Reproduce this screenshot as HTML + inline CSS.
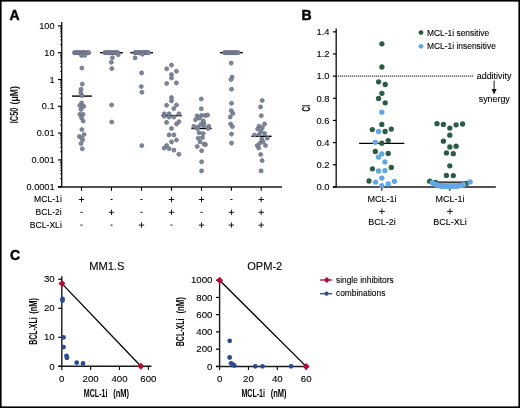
<!DOCTYPE html>
<html><head><meta charset="utf-8"><style>
html,body{margin:0;padding:0;background:#fff;}
svg{display:block;font-family:"Liberation Sans", sans-serif;will-change:transform;}
</style></head><body>
<svg width="520" height="408" viewBox="0 0 520 408">
<rect x="0" y="0" width="520" height="408" fill="#fff"/>
<text x="9.50" y="19.70" font-size="14" text-anchor="start" font-weight="bold" fill="#000" stroke="#000" stroke-width="0.45">A</text>
<line x1="61.70" y1="22.10" x2="61.70" y2="187.60" stroke="#1a1a1a" stroke-width="1.4" />
<line x1="58.00" y1="186.90" x2="282.00" y2="186.90" stroke="#1a1a1a" stroke-width="1.5" />
<line x1="58.00" y1="25.90" x2="61.70" y2="25.90" stroke="#000" stroke-width="1.2" />
<text x="54.60" y="29.00" font-size="9.2" text-anchor="end" font-weight="normal" fill="#000" stroke="#000" stroke-width="0.1" >100</text>
<line x1="58.00" y1="52.70" x2="61.70" y2="52.70" stroke="#000" stroke-width="1.2" />
<text x="54.60" y="55.80" font-size="9.2" text-anchor="end" font-weight="normal" fill="#000" stroke="#000" stroke-width="0.1" >10</text>
<line x1="58.00" y1="79.50" x2="61.70" y2="79.50" stroke="#000" stroke-width="1.2" />
<text x="54.60" y="82.60" font-size="9.2" text-anchor="end" font-weight="normal" fill="#000" stroke="#000" stroke-width="0.1" >1</text>
<line x1="58.00" y1="106.30" x2="61.70" y2="106.30" stroke="#000" stroke-width="1.2" />
<text x="54.60" y="109.40" font-size="9.2" text-anchor="end" font-weight="normal" fill="#000" stroke="#000" stroke-width="0.1" >0.1</text>
<line x1="58.00" y1="133.10" x2="61.70" y2="133.10" stroke="#000" stroke-width="1.2" />
<text x="54.60" y="136.20" font-size="9.2" text-anchor="end" font-weight="normal" fill="#000" stroke="#000" stroke-width="0.1" >0.01</text>
<line x1="58.00" y1="159.90" x2="61.70" y2="159.90" stroke="#000" stroke-width="1.2" />
<text x="54.60" y="163.00" font-size="9.2" text-anchor="end" font-weight="normal" fill="#000" stroke="#000" stroke-width="0.1" >0.001</text>
<line x1="58.00" y1="186.70" x2="61.70" y2="186.70" stroke="#000" stroke-width="1.2" />
<text x="54.60" y="189.80" font-size="9.2" text-anchor="end" font-weight="normal" fill="#000" stroke="#000" stroke-width="0.1" >0.0001</text>
<line x1="60.00" y1="178.63" x2="61.70" y2="178.63" stroke="#000" stroke-width="0.8" />
<line x1="60.00" y1="173.91" x2="61.70" y2="173.91" stroke="#000" stroke-width="0.8" />
<line x1="60.00" y1="170.56" x2="61.70" y2="170.56" stroke="#000" stroke-width="0.8" />
<line x1="60.00" y1="167.97" x2="61.70" y2="167.97" stroke="#000" stroke-width="0.8" />
<line x1="60.00" y1="165.85" x2="61.70" y2="165.85" stroke="#000" stroke-width="0.8" />
<line x1="60.00" y1="164.05" x2="61.70" y2="164.05" stroke="#000" stroke-width="0.8" />
<line x1="60.00" y1="162.50" x2="61.70" y2="162.50" stroke="#000" stroke-width="0.8" />
<line x1="60.00" y1="161.13" x2="61.70" y2="161.13" stroke="#000" stroke-width="0.8" />
<line x1="60.00" y1="151.83" x2="61.70" y2="151.83" stroke="#000" stroke-width="0.8" />
<line x1="60.00" y1="147.11" x2="61.70" y2="147.11" stroke="#000" stroke-width="0.8" />
<line x1="60.00" y1="143.76" x2="61.70" y2="143.76" stroke="#000" stroke-width="0.8" />
<line x1="60.00" y1="141.17" x2="61.70" y2="141.17" stroke="#000" stroke-width="0.8" />
<line x1="60.00" y1="139.05" x2="61.70" y2="139.05" stroke="#000" stroke-width="0.8" />
<line x1="60.00" y1="137.25" x2="61.70" y2="137.25" stroke="#000" stroke-width="0.8" />
<line x1="60.00" y1="135.70" x2="61.70" y2="135.70" stroke="#000" stroke-width="0.8" />
<line x1="60.00" y1="134.33" x2="61.70" y2="134.33" stroke="#000" stroke-width="0.8" />
<line x1="60.00" y1="125.03" x2="61.70" y2="125.03" stroke="#000" stroke-width="0.8" />
<line x1="60.00" y1="120.31" x2="61.70" y2="120.31" stroke="#000" stroke-width="0.8" />
<line x1="60.00" y1="116.96" x2="61.70" y2="116.96" stroke="#000" stroke-width="0.8" />
<line x1="60.00" y1="114.37" x2="61.70" y2="114.37" stroke="#000" stroke-width="0.8" />
<line x1="60.00" y1="112.25" x2="61.70" y2="112.25" stroke="#000" stroke-width="0.8" />
<line x1="60.00" y1="110.45" x2="61.70" y2="110.45" stroke="#000" stroke-width="0.8" />
<line x1="60.00" y1="108.90" x2="61.70" y2="108.90" stroke="#000" stroke-width="0.8" />
<line x1="60.00" y1="107.53" x2="61.70" y2="107.53" stroke="#000" stroke-width="0.8" />
<line x1="60.00" y1="98.23" x2="61.70" y2="98.23" stroke="#000" stroke-width="0.8" />
<line x1="60.00" y1="93.51" x2="61.70" y2="93.51" stroke="#000" stroke-width="0.8" />
<line x1="60.00" y1="90.16" x2="61.70" y2="90.16" stroke="#000" stroke-width="0.8" />
<line x1="60.00" y1="87.57" x2="61.70" y2="87.57" stroke="#000" stroke-width="0.8" />
<line x1="60.00" y1="85.45" x2="61.70" y2="85.45" stroke="#000" stroke-width="0.8" />
<line x1="60.00" y1="83.65" x2="61.70" y2="83.65" stroke="#000" stroke-width="0.8" />
<line x1="60.00" y1="82.10" x2="61.70" y2="82.10" stroke="#000" stroke-width="0.8" />
<line x1="60.00" y1="80.73" x2="61.70" y2="80.73" stroke="#000" stroke-width="0.8" />
<line x1="60.00" y1="71.43" x2="61.70" y2="71.43" stroke="#000" stroke-width="0.8" />
<line x1="60.00" y1="66.71" x2="61.70" y2="66.71" stroke="#000" stroke-width="0.8" />
<line x1="60.00" y1="63.36" x2="61.70" y2="63.36" stroke="#000" stroke-width="0.8" />
<line x1="60.00" y1="60.77" x2="61.70" y2="60.77" stroke="#000" stroke-width="0.8" />
<line x1="60.00" y1="58.65" x2="61.70" y2="58.65" stroke="#000" stroke-width="0.8" />
<line x1="60.00" y1="56.85" x2="61.70" y2="56.85" stroke="#000" stroke-width="0.8" />
<line x1="60.00" y1="55.30" x2="61.70" y2="55.30" stroke="#000" stroke-width="0.8" />
<line x1="60.00" y1="53.93" x2="61.70" y2="53.93" stroke="#000" stroke-width="0.8" />
<line x1="60.00" y1="44.63" x2="61.70" y2="44.63" stroke="#000" stroke-width="0.8" />
<line x1="60.00" y1="39.91" x2="61.70" y2="39.91" stroke="#000" stroke-width="0.8" />
<line x1="60.00" y1="36.56" x2="61.70" y2="36.56" stroke="#000" stroke-width="0.8" />
<line x1="60.00" y1="33.97" x2="61.70" y2="33.97" stroke="#000" stroke-width="0.8" />
<line x1="60.00" y1="31.85" x2="61.70" y2="31.85" stroke="#000" stroke-width="0.8" />
<line x1="60.00" y1="30.05" x2="61.70" y2="30.05" stroke="#000" stroke-width="0.8" />
<line x1="60.00" y1="28.50" x2="61.70" y2="28.50" stroke="#000" stroke-width="0.8" />
<line x1="60.00" y1="27.13" x2="61.70" y2="27.13" stroke="#000" stroke-width="0.8" />
<line x1="81.50" y1="186.90" x2="81.50" y2="190.80" stroke="#000" stroke-width="1.1" />
<line x1="111.50" y1="186.90" x2="111.50" y2="190.80" stroke="#000" stroke-width="1.1" />
<line x1="141.50" y1="186.90" x2="141.50" y2="190.80" stroke="#000" stroke-width="1.1" />
<line x1="171.50" y1="186.90" x2="171.50" y2="190.80" stroke="#000" stroke-width="1.1" />
<line x1="201.50" y1="186.90" x2="201.50" y2="190.80" stroke="#000" stroke-width="1.1" />
<line x1="231.40" y1="186.90" x2="231.40" y2="190.80" stroke="#000" stroke-width="1.1" />
<line x1="261.20" y1="186.90" x2="261.20" y2="190.80" stroke="#000" stroke-width="1.1" />
<text transform="translate(17.5,123.2) rotate(-90)" font-size="10.4" font-weight="bold" fill="#111" textLength="15.6" lengthAdjust="spacingAndGlyphs">IC50</text>
<text transform="translate(17.5,104.4) rotate(-90)" font-size="10.4" font-weight="bold" fill="#111" textLength="18.2" lengthAdjust="spacingAndGlyphs">(μM)</text>
<text x="61.80" y="202.10" font-size="8.6" text-anchor="end" font-weight="normal" fill="#000" stroke="#000" stroke-width="0.1" >MCL-1i</text>
<line x1="78.80" y1="199.50" x2="84.20" y2="199.50" stroke="#000" stroke-width="0.9" />
<line x1="81.50" y1="196.80" x2="81.50" y2="202.20" stroke="#000" stroke-width="0.9" />
<line x1="110.40" y1="199.50" x2="112.60" y2="199.50" stroke="#000" stroke-width="0.9" />
<line x1="140.40" y1="199.50" x2="142.60" y2="199.50" stroke="#000" stroke-width="0.9" />
<line x1="168.80" y1="199.50" x2="174.20" y2="199.50" stroke="#000" stroke-width="0.9" />
<line x1="171.50" y1="196.80" x2="171.50" y2="202.20" stroke="#000" stroke-width="0.9" />
<line x1="198.80" y1="199.50" x2="204.20" y2="199.50" stroke="#000" stroke-width="0.9" />
<line x1="201.50" y1="196.80" x2="201.50" y2="202.20" stroke="#000" stroke-width="0.9" />
<line x1="230.30" y1="199.50" x2="232.50" y2="199.50" stroke="#000" stroke-width="0.9" />
<line x1="258.50" y1="199.50" x2="263.90" y2="199.50" stroke="#000" stroke-width="0.9" />
<line x1="261.20" y1="196.80" x2="261.20" y2="202.20" stroke="#000" stroke-width="0.9" />
<text x="61.80" y="214.90" font-size="8.6" text-anchor="end" font-weight="normal" fill="#000" stroke="#000" stroke-width="0.1" >BCL-2i</text>
<line x1="80.40" y1="212.30" x2="82.60" y2="212.30" stroke="#000" stroke-width="0.9" />
<line x1="108.80" y1="212.30" x2="114.20" y2="212.30" stroke="#000" stroke-width="0.9" />
<line x1="111.50" y1="209.60" x2="111.50" y2="215.00" stroke="#000" stroke-width="0.9" />
<line x1="140.40" y1="212.30" x2="142.60" y2="212.30" stroke="#000" stroke-width="0.9" />
<line x1="168.80" y1="212.30" x2="174.20" y2="212.30" stroke="#000" stroke-width="0.9" />
<line x1="171.50" y1="209.60" x2="171.50" y2="215.00" stroke="#000" stroke-width="0.9" />
<line x1="200.40" y1="212.30" x2="202.60" y2="212.30" stroke="#000" stroke-width="0.9" />
<line x1="228.70" y1="212.30" x2="234.10" y2="212.30" stroke="#000" stroke-width="0.9" />
<line x1="231.40" y1="209.60" x2="231.40" y2="215.00" stroke="#000" stroke-width="0.9" />
<line x1="258.50" y1="212.30" x2="263.90" y2="212.30" stroke="#000" stroke-width="0.9" />
<line x1="261.20" y1="209.60" x2="261.20" y2="215.00" stroke="#000" stroke-width="0.9" />
<text x="61.80" y="227.70" font-size="8.6" text-anchor="end" font-weight="normal" fill="#000" stroke="#000" stroke-width="0.1" >BCL-XLi</text>
<line x1="80.40" y1="225.10" x2="82.60" y2="225.10" stroke="#000" stroke-width="0.9" />
<line x1="110.40" y1="225.10" x2="112.60" y2="225.10" stroke="#000" stroke-width="0.9" />
<line x1="138.80" y1="225.10" x2="144.20" y2="225.10" stroke="#000" stroke-width="0.9" />
<line x1="141.50" y1="222.40" x2="141.50" y2="227.80" stroke="#000" stroke-width="0.9" />
<line x1="170.40" y1="225.10" x2="172.60" y2="225.10" stroke="#000" stroke-width="0.9" />
<line x1="198.80" y1="225.10" x2="204.20" y2="225.10" stroke="#000" stroke-width="0.9" />
<line x1="201.50" y1="222.40" x2="201.50" y2="227.80" stroke="#000" stroke-width="0.9" />
<line x1="228.70" y1="225.10" x2="234.10" y2="225.10" stroke="#000" stroke-width="0.9" />
<line x1="231.40" y1="222.40" x2="231.40" y2="227.80" stroke="#000" stroke-width="0.9" />
<line x1="258.50" y1="225.10" x2="263.90" y2="225.10" stroke="#000" stroke-width="0.9" />
<line x1="261.20" y1="222.40" x2="261.20" y2="227.80" stroke="#000" stroke-width="0.9" />
<line x1="72.00" y1="96.10" x2="91.80" y2="96.10" stroke="#000" stroke-width="1.4" />
<line x1="100.10" y1="52.70" x2="122.90" y2="52.70" stroke="#000" stroke-width="1.4" />
<line x1="130.30" y1="52.70" x2="153.10" y2="52.70" stroke="#000" stroke-width="1.4" />
<line x1="161.50" y1="115.60" x2="181.70" y2="115.60" stroke="#000" stroke-width="1.4" />
<line x1="191.40" y1="128.50" x2="211.60" y2="128.50" stroke="#000" stroke-width="1.4" />
<line x1="220.05" y1="52.65" x2="242.85" y2="52.65" stroke="#000" stroke-width="1.4" />
<line x1="251.40" y1="136.30" x2="271.60" y2="136.30" stroke="#000" stroke-width="1.4" />
<circle cx="74.40" cy="52.65" r="2.05" fill="#80869a" stroke="#626779" stroke-width="0.6"/>
<circle cx="75.72" cy="52.65" r="2.05" fill="#80869a" stroke="#626779" stroke-width="0.6"/>
<circle cx="77.04" cy="52.65" r="2.05" fill="#80869a" stroke="#626779" stroke-width="0.6"/>
<circle cx="78.35" cy="52.65" r="2.05" fill="#80869a" stroke="#626779" stroke-width="0.6"/>
<circle cx="79.67" cy="52.65" r="2.05" fill="#80869a" stroke="#626779" stroke-width="0.6"/>
<circle cx="80.99" cy="52.65" r="2.05" fill="#80869a" stroke="#626779" stroke-width="0.6"/>
<circle cx="82.31" cy="52.65" r="2.05" fill="#80869a" stroke="#626779" stroke-width="0.6"/>
<circle cx="83.63" cy="52.65" r="2.05" fill="#80869a" stroke="#626779" stroke-width="0.6"/>
<circle cx="84.95" cy="52.65" r="2.05" fill="#80869a" stroke="#626779" stroke-width="0.6"/>
<circle cx="86.26" cy="52.65" r="2.05" fill="#80869a" stroke="#626779" stroke-width="0.6"/>
<circle cx="87.58" cy="52.65" r="2.05" fill="#80869a" stroke="#626779" stroke-width="0.6"/>
<circle cx="88.90" cy="52.65" r="2.05" fill="#80869a" stroke="#626779" stroke-width="0.6"/>
<circle cx="81.60" cy="55.40" r="2.05" fill="#80869a" stroke="#626779" stroke-width="0.6"/>
<circle cx="84.70" cy="55.40" r="2.05" fill="#80869a" stroke="#626779" stroke-width="0.6"/>
<circle cx="81.90" cy="68.10" r="2.05" fill="#80869a" stroke="#626779" stroke-width="0.6"/>
<circle cx="82.30" cy="84.10" r="2.05" fill="#80869a" stroke="#626779" stroke-width="0.6"/>
<circle cx="81.00" cy="89.30" r="2.05" fill="#80869a" stroke="#626779" stroke-width="0.6"/>
<circle cx="80.80" cy="92.70" r="2.05" fill="#80869a" stroke="#626779" stroke-width="0.6"/>
<circle cx="82.00" cy="95.60" r="2.05" fill="#80869a" stroke="#626779" stroke-width="0.6"/>
<circle cx="81.60" cy="103.00" r="2.05" fill="#80869a" stroke="#626779" stroke-width="0.6"/>
<circle cx="79.80" cy="105.50" r="2.05" fill="#80869a" stroke="#626779" stroke-width="0.6"/>
<circle cx="83.70" cy="106.40" r="2.05" fill="#80869a" stroke="#626779" stroke-width="0.6"/>
<circle cx="81.00" cy="109.40" r="2.05" fill="#80869a" stroke="#626779" stroke-width="0.6"/>
<circle cx="79.90" cy="114.40" r="2.05" fill="#80869a" stroke="#626779" stroke-width="0.6"/>
<circle cx="83.00" cy="114.40" r="2.05" fill="#80869a" stroke="#626779" stroke-width="0.6"/>
<circle cx="81.60" cy="117.90" r="2.05" fill="#80869a" stroke="#626779" stroke-width="0.6"/>
<circle cx="83.20" cy="121.00" r="2.05" fill="#80869a" stroke="#626779" stroke-width="0.6"/>
<circle cx="81.90" cy="129.60" r="2.05" fill="#80869a" stroke="#626779" stroke-width="0.6"/>
<circle cx="84.10" cy="134.50" r="2.05" fill="#80869a" stroke="#626779" stroke-width="0.6"/>
<circle cx="79.40" cy="136.50" r="2.05" fill="#80869a" stroke="#626779" stroke-width="0.6"/>
<circle cx="81.60" cy="138.10" r="2.05" fill="#80869a" stroke="#626779" stroke-width="0.6"/>
<circle cx="82.70" cy="140.00" r="2.05" fill="#80869a" stroke="#626779" stroke-width="0.6"/>
<circle cx="81.00" cy="143.60" r="2.05" fill="#80869a" stroke="#626779" stroke-width="0.6"/>
<circle cx="82.30" cy="148.80" r="2.05" fill="#80869a" stroke="#626779" stroke-width="0.6"/>
<circle cx="104.80" cy="52.65" r="2.05" fill="#80869a" stroke="#626779" stroke-width="0.6"/>
<circle cx="106.11" cy="52.65" r="2.05" fill="#80869a" stroke="#626779" stroke-width="0.6"/>
<circle cx="107.42" cy="52.65" r="2.05" fill="#80869a" stroke="#626779" stroke-width="0.6"/>
<circle cx="108.73" cy="52.65" r="2.05" fill="#80869a" stroke="#626779" stroke-width="0.6"/>
<circle cx="110.04" cy="52.65" r="2.05" fill="#80869a" stroke="#626779" stroke-width="0.6"/>
<circle cx="111.35" cy="52.65" r="2.05" fill="#80869a" stroke="#626779" stroke-width="0.6"/>
<circle cx="112.66" cy="52.65" r="2.05" fill="#80869a" stroke="#626779" stroke-width="0.6"/>
<circle cx="113.97" cy="52.65" r="2.05" fill="#80869a" stroke="#626779" stroke-width="0.6"/>
<circle cx="115.28" cy="52.65" r="2.05" fill="#80869a" stroke="#626779" stroke-width="0.6"/>
<circle cx="116.59" cy="52.65" r="2.05" fill="#80869a" stroke="#626779" stroke-width="0.6"/>
<circle cx="117.90" cy="52.65" r="2.05" fill="#80869a" stroke="#626779" stroke-width="0.6"/>
<circle cx="118.20" cy="54.80" r="2.05" fill="#80869a" stroke="#626779" stroke-width="0.6"/>
<circle cx="112.40" cy="57.70" r="2.05" fill="#80869a" stroke="#626779" stroke-width="0.6"/>
<circle cx="111.30" cy="62.30" r="2.05" fill="#80869a" stroke="#626779" stroke-width="0.6"/>
<circle cx="111.80" cy="68.60" r="2.05" fill="#80869a" stroke="#626779" stroke-width="0.6"/>
<circle cx="111.60" cy="105.00" r="2.05" fill="#80869a" stroke="#626779" stroke-width="0.6"/>
<circle cx="111.70" cy="122.00" r="2.05" fill="#80869a" stroke="#626779" stroke-width="0.6"/>
<circle cx="134.80" cy="52.65" r="2.05" fill="#80869a" stroke="#626779" stroke-width="0.6"/>
<circle cx="136.05" cy="52.65" r="2.05" fill="#80869a" stroke="#626779" stroke-width="0.6"/>
<circle cx="137.31" cy="52.65" r="2.05" fill="#80869a" stroke="#626779" stroke-width="0.6"/>
<circle cx="138.56" cy="52.65" r="2.05" fill="#80869a" stroke="#626779" stroke-width="0.6"/>
<circle cx="139.82" cy="52.65" r="2.05" fill="#80869a" stroke="#626779" stroke-width="0.6"/>
<circle cx="141.07" cy="52.65" r="2.05" fill="#80869a" stroke="#626779" stroke-width="0.6"/>
<circle cx="142.33" cy="52.65" r="2.05" fill="#80869a" stroke="#626779" stroke-width="0.6"/>
<circle cx="143.58" cy="52.65" r="2.05" fill="#80869a" stroke="#626779" stroke-width="0.6"/>
<circle cx="144.84" cy="52.65" r="2.05" fill="#80869a" stroke="#626779" stroke-width="0.6"/>
<circle cx="146.09" cy="52.65" r="2.05" fill="#80869a" stroke="#626779" stroke-width="0.6"/>
<circle cx="147.35" cy="52.65" r="2.05" fill="#80869a" stroke="#626779" stroke-width="0.6"/>
<circle cx="148.60" cy="52.65" r="2.05" fill="#80869a" stroke="#626779" stroke-width="0.6"/>
<circle cx="142.40" cy="54.20" r="2.05" fill="#80869a" stroke="#626779" stroke-width="0.6"/>
<circle cx="135.10" cy="57.90" r="2.05" fill="#80869a" stroke="#626779" stroke-width="0.6"/>
<circle cx="141.60" cy="72.90" r="2.05" fill="#80869a" stroke="#626779" stroke-width="0.6"/>
<circle cx="141.30" cy="86.60" r="2.05" fill="#80869a" stroke="#626779" stroke-width="0.6"/>
<circle cx="141.90" cy="92.30" r="2.05" fill="#80869a" stroke="#626779" stroke-width="0.6"/>
<circle cx="141.80" cy="145.60" r="2.05" fill="#80869a" stroke="#626779" stroke-width="0.6"/>
<circle cx="171.50" cy="65.10" r="2.05" fill="#80869a" stroke="#626779" stroke-width="0.6"/>
<circle cx="166.70" cy="68.80" r="2.05" fill="#80869a" stroke="#626779" stroke-width="0.6"/>
<circle cx="176.40" cy="71.20" r="2.05" fill="#80869a" stroke="#626779" stroke-width="0.6"/>
<circle cx="171.50" cy="74.60" r="2.05" fill="#80869a" stroke="#626779" stroke-width="0.6"/>
<circle cx="171.50" cy="78.00" r="2.05" fill="#80869a" stroke="#626779" stroke-width="0.6"/>
<circle cx="166.70" cy="83.50" r="2.05" fill="#80869a" stroke="#626779" stroke-width="0.6"/>
<circle cx="176.40" cy="82.90" r="2.05" fill="#80869a" stroke="#626779" stroke-width="0.6"/>
<circle cx="171.50" cy="97.60" r="2.05" fill="#80869a" stroke="#626779" stroke-width="0.6"/>
<circle cx="171.50" cy="100.90" r="2.05" fill="#80869a" stroke="#626779" stroke-width="0.6"/>
<circle cx="166.60" cy="105.30" r="2.05" fill="#80869a" stroke="#626779" stroke-width="0.6"/>
<circle cx="176.50" cy="105.00" r="2.05" fill="#80869a" stroke="#626779" stroke-width="0.6"/>
<circle cx="173.80" cy="108.60" r="2.05" fill="#80869a" stroke="#626779" stroke-width="0.6"/>
<circle cx="164.20" cy="113.80" r="2.05" fill="#80869a" stroke="#626779" stroke-width="0.6"/>
<circle cx="169.10" cy="113.80" r="2.05" fill="#80869a" stroke="#626779" stroke-width="0.6"/>
<circle cx="178.90" cy="113.80" r="2.05" fill="#80869a" stroke="#626779" stroke-width="0.6"/>
<circle cx="164.20" cy="116.20" r="2.05" fill="#80869a" stroke="#626779" stroke-width="0.6"/>
<circle cx="169.10" cy="117.10" r="2.05" fill="#80869a" stroke="#626779" stroke-width="0.6"/>
<circle cx="173.90" cy="117.10" r="2.05" fill="#80869a" stroke="#626779" stroke-width="0.6"/>
<circle cx="166.60" cy="122.40" r="2.05" fill="#80869a" stroke="#626779" stroke-width="0.6"/>
<circle cx="178.90" cy="121.70" r="2.05" fill="#80869a" stroke="#626779" stroke-width="0.6"/>
<circle cx="176.50" cy="123.90" r="2.05" fill="#80869a" stroke="#626779" stroke-width="0.6"/>
<circle cx="171.50" cy="128.50" r="2.05" fill="#80869a" stroke="#626779" stroke-width="0.6"/>
<circle cx="169.10" cy="134.90" r="2.05" fill="#80869a" stroke="#626779" stroke-width="0.6"/>
<circle cx="173.90" cy="134.90" r="2.05" fill="#80869a" stroke="#626779" stroke-width="0.6"/>
<circle cx="176.50" cy="140.00" r="2.05" fill="#80869a" stroke="#626779" stroke-width="0.6"/>
<circle cx="171.50" cy="141.90" r="2.05" fill="#80869a" stroke="#626779" stroke-width="0.6"/>
<circle cx="166.60" cy="145.50" r="2.05" fill="#80869a" stroke="#626779" stroke-width="0.6"/>
<circle cx="164.20" cy="148.10" r="2.05" fill="#80869a" stroke="#626779" stroke-width="0.6"/>
<circle cx="169.10" cy="148.70" r="2.05" fill="#80869a" stroke="#626779" stroke-width="0.6"/>
<circle cx="173.90" cy="150.10" r="2.05" fill="#80869a" stroke="#626779" stroke-width="0.6"/>
<circle cx="178.90" cy="154.20" r="2.05" fill="#80869a" stroke="#626779" stroke-width="0.6"/>
<circle cx="201.30" cy="99.00" r="2.05" fill="#80869a" stroke="#626779" stroke-width="0.6"/>
<circle cx="201.30" cy="108.70" r="2.05" fill="#80869a" stroke="#626779" stroke-width="0.6"/>
<circle cx="197.10" cy="115.90" r="2.05" fill="#80869a" stroke="#626779" stroke-width="0.6"/>
<circle cx="201.60" cy="115.40" r="2.05" fill="#80869a" stroke="#626779" stroke-width="0.6"/>
<circle cx="205.40" cy="115.40" r="2.05" fill="#80869a" stroke="#626779" stroke-width="0.6"/>
<circle cx="207.60" cy="115.00" r="2.05" fill="#80869a" stroke="#626779" stroke-width="0.6"/>
<circle cx="195.50" cy="119.80" r="2.05" fill="#80869a" stroke="#626779" stroke-width="0.6"/>
<circle cx="199.40" cy="118.10" r="2.05" fill="#80869a" stroke="#626779" stroke-width="0.6"/>
<circle cx="203.20" cy="120.90" r="2.05" fill="#80869a" stroke="#626779" stroke-width="0.6"/>
<circle cx="203.80" cy="123.10" r="2.05" fill="#80869a" stroke="#626779" stroke-width="0.6"/>
<circle cx="201.00" cy="124.20" r="2.05" fill="#80869a" stroke="#626779" stroke-width="0.6"/>
<circle cx="193.80" cy="126.40" r="2.05" fill="#80869a" stroke="#626779" stroke-width="0.6"/>
<circle cx="198.20" cy="127.00" r="2.05" fill="#80869a" stroke="#626779" stroke-width="0.6"/>
<circle cx="203.70" cy="125.70" r="2.05" fill="#80869a" stroke="#626779" stroke-width="0.6"/>
<circle cx="208.70" cy="126.40" r="2.05" fill="#80869a" stroke="#626779" stroke-width="0.6"/>
<circle cx="197.20" cy="128.50" r="2.05" fill="#80869a" stroke="#626779" stroke-width="0.6"/>
<circle cx="208.20" cy="128.50" r="2.05" fill="#80869a" stroke="#626779" stroke-width="0.6"/>
<circle cx="199.10" cy="132.70" r="2.05" fill="#80869a" stroke="#626779" stroke-width="0.6"/>
<circle cx="203.10" cy="133.60" r="2.05" fill="#80869a" stroke="#626779" stroke-width="0.6"/>
<circle cx="198.20" cy="138.20" r="2.05" fill="#80869a" stroke="#626779" stroke-width="0.6"/>
<circle cx="202.40" cy="137.60" r="2.05" fill="#80869a" stroke="#626779" stroke-width="0.6"/>
<circle cx="200.00" cy="141.90" r="2.05" fill="#80869a" stroke="#626779" stroke-width="0.6"/>
<circle cx="197.20" cy="146.50" r="2.05" fill="#80869a" stroke="#626779" stroke-width="0.6"/>
<circle cx="204.20" cy="144.10" r="2.05" fill="#80869a" stroke="#626779" stroke-width="0.6"/>
<circle cx="205.50" cy="144.60" r="2.05" fill="#80869a" stroke="#626779" stroke-width="0.6"/>
<circle cx="201.60" cy="150.70" r="2.05" fill="#80869a" stroke="#626779" stroke-width="0.6"/>
<circle cx="201.60" cy="161.80" r="2.05" fill="#80869a" stroke="#626779" stroke-width="0.6"/>
<circle cx="201.60" cy="170.90" r="2.05" fill="#80869a" stroke="#626779" stroke-width="0.6"/>
<circle cx="224.40" cy="52.65" r="2.05" fill="#80869a" stroke="#626779" stroke-width="0.6"/>
<circle cx="225.65" cy="52.65" r="2.05" fill="#80869a" stroke="#626779" stroke-width="0.6"/>
<circle cx="226.91" cy="52.65" r="2.05" fill="#80869a" stroke="#626779" stroke-width="0.6"/>
<circle cx="228.16" cy="52.65" r="2.05" fill="#80869a" stroke="#626779" stroke-width="0.6"/>
<circle cx="229.42" cy="52.65" r="2.05" fill="#80869a" stroke="#626779" stroke-width="0.6"/>
<circle cx="230.67" cy="52.65" r="2.05" fill="#80869a" stroke="#626779" stroke-width="0.6"/>
<circle cx="231.93" cy="52.65" r="2.05" fill="#80869a" stroke="#626779" stroke-width="0.6"/>
<circle cx="233.18" cy="52.65" r="2.05" fill="#80869a" stroke="#626779" stroke-width="0.6"/>
<circle cx="234.44" cy="52.65" r="2.05" fill="#80869a" stroke="#626779" stroke-width="0.6"/>
<circle cx="235.69" cy="52.65" r="2.05" fill="#80869a" stroke="#626779" stroke-width="0.6"/>
<circle cx="236.95" cy="52.65" r="2.05" fill="#80869a" stroke="#626779" stroke-width="0.6"/>
<circle cx="238.20" cy="52.65" r="2.05" fill="#80869a" stroke="#626779" stroke-width="0.6"/>
<circle cx="231.20" cy="63.10" r="2.05" fill="#80869a" stroke="#626779" stroke-width="0.6"/>
<circle cx="232.10" cy="77.10" r="2.05" fill="#80869a" stroke="#626779" stroke-width="0.6"/>
<circle cx="231.00" cy="79.50" r="2.05" fill="#80869a" stroke="#626779" stroke-width="0.6"/>
<circle cx="231.50" cy="89.20" r="2.05" fill="#80869a" stroke="#626779" stroke-width="0.6"/>
<circle cx="231.50" cy="103.30" r="2.05" fill="#80869a" stroke="#626779" stroke-width="0.6"/>
<circle cx="231.20" cy="110.60" r="2.05" fill="#80869a" stroke="#626779" stroke-width="0.6"/>
<circle cx="232.80" cy="113.40" r="2.05" fill="#80869a" stroke="#626779" stroke-width="0.6"/>
<circle cx="230.20" cy="117.00" r="2.05" fill="#80869a" stroke="#626779" stroke-width="0.6"/>
<circle cx="230.60" cy="124.00" r="2.05" fill="#80869a" stroke="#626779" stroke-width="0.6"/>
<circle cx="232.40" cy="126.60" r="2.05" fill="#80869a" stroke="#626779" stroke-width="0.6"/>
<circle cx="231.50" cy="134.10" r="2.05" fill="#80869a" stroke="#626779" stroke-width="0.6"/>
<circle cx="231.50" cy="143.10" r="2.05" fill="#80869a" stroke="#626779" stroke-width="0.6"/>
<circle cx="262.20" cy="100.50" r="2.05" fill="#80869a" stroke="#626779" stroke-width="0.6"/>
<circle cx="260.50" cy="106.90" r="2.05" fill="#80869a" stroke="#626779" stroke-width="0.6"/>
<circle cx="261.30" cy="115.70" r="2.05" fill="#80869a" stroke="#626779" stroke-width="0.6"/>
<circle cx="264.60" cy="124.00" r="2.05" fill="#80869a" stroke="#626779" stroke-width="0.6"/>
<circle cx="259.10" cy="126.20" r="2.05" fill="#80869a" stroke="#626779" stroke-width="0.6"/>
<circle cx="262.40" cy="127.70" r="2.05" fill="#80869a" stroke="#626779" stroke-width="0.6"/>
<circle cx="257.60" cy="129.00" r="2.05" fill="#80869a" stroke="#626779" stroke-width="0.6"/>
<circle cx="260.90" cy="131.40" r="2.05" fill="#80869a" stroke="#626779" stroke-width="0.6"/>
<circle cx="254.50" cy="135.00" r="2.05" fill="#80869a" stroke="#626779" stroke-width="0.6"/>
<circle cx="259.10" cy="134.50" r="2.05" fill="#80869a" stroke="#626779" stroke-width="0.6"/>
<circle cx="264.60" cy="133.60" r="2.05" fill="#80869a" stroke="#626779" stroke-width="0.6"/>
<circle cx="267.30" cy="138.20" r="2.05" fill="#80869a" stroke="#626779" stroke-width="0.6"/>
<circle cx="261.80" cy="139.10" r="2.05" fill="#80869a" stroke="#626779" stroke-width="0.6"/>
<circle cx="263.10" cy="141.80" r="2.05" fill="#80869a" stroke="#626779" stroke-width="0.6"/>
<circle cx="260.00" cy="143.10" r="2.05" fill="#80869a" stroke="#626779" stroke-width="0.6"/>
<circle cx="265.50" cy="145.50" r="2.05" fill="#80869a" stroke="#626779" stroke-width="0.6"/>
<circle cx="257.20" cy="145.50" r="2.05" fill="#80869a" stroke="#626779" stroke-width="0.6"/>
<circle cx="258.70" cy="147.90" r="2.05" fill="#80869a" stroke="#626779" stroke-width="0.6"/>
<circle cx="260.70" cy="154.50" r="2.05" fill="#80869a" stroke="#626779" stroke-width="0.6"/>
<circle cx="262.10" cy="160.60" r="2.05" fill="#80869a" stroke="#626779" stroke-width="0.6"/>
<circle cx="261.10" cy="170.90" r="2.05" fill="#80869a" stroke="#626779" stroke-width="0.6"/>
<text x="301.60" y="19.70" font-size="14" text-anchor="start" font-weight="bold" fill="#000" stroke="#000" stroke-width="0.45">B</text>
<line x1="336.20" y1="28.50" x2="336.20" y2="187.60" stroke="#1a1a1a" stroke-width="1.4" />
<line x1="332.80" y1="186.90" x2="495.80" y2="186.90" stroke="#1a1a1a" stroke-width="1.5" />
<line x1="332.90" y1="186.90" x2="336.20" y2="186.90" stroke="#000" stroke-width="1.2" />
<text x="329.60" y="190.20" font-size="9.4" text-anchor="end" font-weight="normal" fill="#000" stroke="#000" stroke-width="0.1" >0.0</text>
<line x1="332.90" y1="164.75" x2="336.20" y2="164.75" stroke="#000" stroke-width="1.2" />
<text x="329.60" y="168.05" font-size="9.4" text-anchor="end" font-weight="normal" fill="#000" stroke="#000" stroke-width="0.1" >0.2</text>
<line x1="332.90" y1="142.60" x2="336.20" y2="142.60" stroke="#000" stroke-width="1.2" />
<text x="329.60" y="145.90" font-size="9.4" text-anchor="end" font-weight="normal" fill="#000" stroke="#000" stroke-width="0.1" >0.4</text>
<line x1="332.90" y1="120.45" x2="336.20" y2="120.45" stroke="#000" stroke-width="1.2" />
<text x="329.60" y="123.75" font-size="9.4" text-anchor="end" font-weight="normal" fill="#000" stroke="#000" stroke-width="0.1" >0.6</text>
<line x1="332.90" y1="98.30" x2="336.20" y2="98.30" stroke="#000" stroke-width="1.2" />
<text x="329.60" y="101.60" font-size="9.4" text-anchor="end" font-weight="normal" fill="#000" stroke="#000" stroke-width="0.1" >0.8</text>
<line x1="332.90" y1="76.15" x2="336.20" y2="76.15" stroke="#000" stroke-width="1.2" />
<text x="329.60" y="79.45" font-size="9.4" text-anchor="end" font-weight="normal" fill="#000" stroke="#000" stroke-width="0.1" >1.0</text>
<line x1="332.90" y1="54.00" x2="336.20" y2="54.00" stroke="#000" stroke-width="1.2" />
<text x="329.60" y="57.30" font-size="9.4" text-anchor="end" font-weight="normal" fill="#000" stroke="#000" stroke-width="0.1" >1.2</text>
<line x1="332.90" y1="31.85" x2="336.20" y2="31.85" stroke="#000" stroke-width="1.2" />
<text x="329.60" y="35.15" font-size="9.4" text-anchor="end" font-weight="normal" fill="#000" stroke="#000" stroke-width="0.1" >1.4</text>
<line x1="381.80" y1="186.90" x2="381.80" y2="190.80" stroke="#000" stroke-width="1.1" />
<line x1="449.80" y1="186.90" x2="449.80" y2="190.80" stroke="#000" stroke-width="1.1" />
<text transform="translate(309.7,108.1) rotate(-90)" font-size="10.4" font-weight="bold" text-anchor="middle" fill="#000" textLength="6.6" lengthAdjust="spacingAndGlyphs">CI</text>
<line x1="336.2" y1="76.2" x2="473.3" y2="76.2" stroke="#111" stroke-width="1.2" stroke-dasharray="1 1"/>
<text x="476.80" y="79.00" font-size="8.9" text-anchor="start" font-weight="normal" fill="#000" stroke="#000" stroke-width="0.1" >additivity</text>
<line x1="494.10" y1="80.60" x2="494.10" y2="90.00" stroke="#000" stroke-width="0.9" />
<path d="M491.6 89 L496.6 89 L494.1 94.5 Z" fill="#111"/>
<text x="478.70" y="101.80" font-size="8.9" text-anchor="start" font-weight="normal" fill="#000" stroke="#000" stroke-width="0.1" >synergy</text>
<circle cx="421.00" cy="32.60" r="2.4" fill="#2b5c44"/>
<circle cx="421.00" cy="46.30" r="2.4" fill="#62a7e3"/>
<text x="426.90" y="35.80" font-size="8.45" text-anchor="start" font-weight="normal" fill="#000" stroke="#000" stroke-width="0.1" >MCL-1i sensitive</text>
<text x="426.90" y="49.10" font-size="8.45" text-anchor="start" font-weight="normal" fill="#000" stroke="#000" stroke-width="0.1" >MCL-1i insensitive</text>
<text x="381.90" y="202.10" font-size="9" text-anchor="middle" font-weight="normal" fill="#000" stroke="#000" stroke-width="0.1" >MCL-1i</text>
<line x1="379.00" y1="211.40" x2="384.80" y2="211.40" stroke="#000" stroke-width="0.9" />
<line x1="381.90" y1="208.50" x2="381.90" y2="214.30" stroke="#000" stroke-width="0.9" />
<text x="381.90" y="224.80" font-size="9" text-anchor="middle" font-weight="normal" fill="#000" stroke="#000" stroke-width="0.1" >BCL-2i</text>
<text x="450.00" y="202.10" font-size="9" text-anchor="middle" font-weight="normal" fill="#000" stroke="#000" stroke-width="0.1" >MCL-1i</text>
<line x1="447.10" y1="211.40" x2="452.90" y2="211.40" stroke="#000" stroke-width="0.9" />
<line x1="450.00" y1="208.50" x2="450.00" y2="214.30" stroke="#000" stroke-width="0.9" />
<text x="450.00" y="224.80" font-size="9" text-anchor="middle" font-weight="normal" fill="#000" stroke="#000" stroke-width="0.1" >BCL-XLi</text>
<line x1="359.10" y1="143.40" x2="404.30" y2="143.40" stroke="#000" stroke-width="1.4" />
<line x1="427.20" y1="182.10" x2="472.40" y2="182.10" stroke="#000" stroke-width="1.4" />
<circle cx="381.90" cy="43.80" r="2.65" fill="#2b5c44"/>
<circle cx="381.90" cy="67.00" r="2.65" fill="#2b5c44"/>
<circle cx="378.60" cy="81.80" r="2.65" fill="#2b5c44"/>
<circle cx="385.20" cy="84.50" r="2.65" fill="#2b5c44"/>
<circle cx="381.90" cy="93.30" r="2.65" fill="#2b5c44"/>
<circle cx="378.60" cy="98.40" r="2.65" fill="#2b5c44"/>
<circle cx="385.20" cy="102.80" r="2.65" fill="#2b5c44"/>
<circle cx="381.80" cy="112.20" r="2.65" fill="#62a7e3"/>
<circle cx="381.80" cy="124.40" r="2.65" fill="#2b5c44"/>
<circle cx="372.30" cy="129.60" r="2.65" fill="#2b5c44"/>
<circle cx="378.60" cy="131.50" r="2.65" fill="#62a7e3"/>
<circle cx="385.10" cy="131.50" r="2.65" fill="#2b5c44"/>
<circle cx="391.30" cy="129.10" r="2.65" fill="#2b5c44"/>
<circle cx="375.30" cy="142.30" r="2.65" fill="#62a7e3"/>
<circle cx="381.80" cy="143.20" r="2.65" fill="#2b5c44"/>
<circle cx="388.20" cy="140.60" r="2.65" fill="#2b5c44"/>
<circle cx="375.30" cy="151.50" r="2.65" fill="#2b5c44"/>
<circle cx="381.80" cy="153.80" r="2.65" fill="#62a7e3"/>
<circle cx="378.50" cy="157.10" r="2.65" fill="#62a7e3"/>
<circle cx="388.20" cy="153.40" r="2.65" fill="#2b5c44"/>
<circle cx="384.90" cy="161.90" r="2.65" fill="#62a7e3"/>
<circle cx="372.40" cy="168.80" r="2.65" fill="#2b5c44"/>
<circle cx="378.50" cy="171.00" r="2.65" fill="#62a7e3"/>
<circle cx="384.90" cy="170.60" r="2.65" fill="#62a7e3"/>
<circle cx="391.30" cy="167.40" r="2.65" fill="#2b5c44"/>
<circle cx="381.80" cy="178.10" r="2.65" fill="#62a7e3"/>
<circle cx="369.00" cy="181.00" r="2.65" fill="#2b5c44"/>
<circle cx="375.60" cy="182.10" r="2.65" fill="#62a7e3"/>
<circle cx="394.40" cy="181.30" r="2.65" fill="#62a7e3"/>
<circle cx="381.80" cy="185.70" r="2.65" fill="#62a7e3"/>
<circle cx="388.20" cy="184.00" r="2.65" fill="#62a7e3"/>
<circle cx="437.00" cy="123.70" r="2.65" fill="#2b5c44"/>
<circle cx="443.40" cy="124.40" r="2.65" fill="#2b5c44"/>
<circle cx="449.80" cy="128.10" r="2.65" fill="#2b5c44"/>
<circle cx="456.10" cy="124.80" r="2.65" fill="#2b5c44"/>
<circle cx="462.60" cy="124.00" r="2.65" fill="#2b5c44"/>
<circle cx="449.80" cy="135.20" r="2.65" fill="#2b5c44"/>
<circle cx="443.40" cy="141.20" r="2.65" fill="#2b5c44"/>
<circle cx="449.80" cy="147.00" r="2.65" fill="#2b5c44"/>
<circle cx="456.10" cy="146.20" r="2.65" fill="#2b5c44"/>
<circle cx="446.40" cy="152.90" r="2.65" fill="#2b5c44"/>
<circle cx="453.30" cy="153.70" r="2.65" fill="#2b5c44"/>
<circle cx="449.80" cy="165.80" r="2.65" fill="#2b5c44"/>
<circle cx="446.40" cy="175.40" r="2.65" fill="#2b5c44"/>
<circle cx="453.30" cy="175.60" r="2.65" fill="#2b5c44"/>
<circle cx="429.80" cy="181.20" r="2.65" fill="#2b5c44"/>
<circle cx="435.60" cy="182.40" r="2.65" fill="#2b5c44"/>
<circle cx="466.30" cy="183.50" r="2.65" fill="#2b5c44"/>
<circle cx="436.00" cy="184.70" r="2.65" fill="#62a7e3"/>
<circle cx="437.25" cy="185.08" r="2.65" fill="#62a7e3"/>
<circle cx="438.51" cy="185.36" r="2.65" fill="#62a7e3"/>
<circle cx="439.76" cy="185.56" r="2.65" fill="#62a7e3"/>
<circle cx="441.02" cy="185.70" r="2.65" fill="#62a7e3"/>
<circle cx="442.27" cy="185.79" r="2.65" fill="#62a7e3"/>
<circle cx="443.53" cy="185.85" r="2.65" fill="#62a7e3"/>
<circle cx="444.78" cy="185.88" r="2.65" fill="#62a7e3"/>
<circle cx="446.04" cy="185.89" r="2.65" fill="#62a7e3"/>
<circle cx="447.29" cy="185.90" r="2.65" fill="#62a7e3"/>
<circle cx="448.55" cy="185.90" r="2.65" fill="#62a7e3"/>
<circle cx="449.80" cy="185.90" r="2.65" fill="#62a7e3"/>
<circle cx="451.05" cy="185.90" r="2.65" fill="#62a7e3"/>
<circle cx="452.31" cy="185.90" r="2.65" fill="#62a7e3"/>
<circle cx="453.56" cy="185.89" r="2.65" fill="#62a7e3"/>
<circle cx="454.82" cy="185.88" r="2.65" fill="#62a7e3"/>
<circle cx="456.07" cy="185.85" r="2.65" fill="#62a7e3"/>
<circle cx="457.33" cy="185.79" r="2.65" fill="#62a7e3"/>
<circle cx="458.58" cy="185.70" r="2.65" fill="#62a7e3"/>
<circle cx="459.84" cy="185.56" r="2.65" fill="#62a7e3"/>
<circle cx="461.09" cy="185.36" r="2.65" fill="#62a7e3"/>
<circle cx="462.35" cy="185.08" r="2.65" fill="#62a7e3"/>
<circle cx="463.60" cy="184.70" r="2.65" fill="#62a7e3"/>
<circle cx="441.00" cy="186.30" r="2.65" fill="#62a7e3"/>
<circle cx="445.00" cy="186.30" r="2.65" fill="#62a7e3"/>
<circle cx="449.00" cy="186.30" r="2.65" fill="#62a7e3"/>
<circle cx="453.00" cy="186.30" r="2.65" fill="#62a7e3"/>
<circle cx="457.00" cy="186.30" r="2.65" fill="#62a7e3"/>
<circle cx="432.20" cy="182.60" r="2.65" fill="#62a7e3"/>
<circle cx="434.00" cy="183.80" r="2.65" fill="#62a7e3"/>
<circle cx="470.00" cy="181.90" r="2.65" fill="#62a7e3"/>
<text x="10.00" y="260.00" font-size="14" text-anchor="start" font-weight="bold" fill="#000" stroke="#000" stroke-width="0.45">C</text>
<line x1="61.80" y1="276.30" x2="61.80" y2="367.00" stroke="#1a1a1a" stroke-width="1.4" />
<line x1="58.20" y1="366.30" x2="151.50" y2="366.30" stroke="#1a1a1a" stroke-width="1.5" />
<line x1="58.20" y1="366.30" x2="61.80" y2="366.30" stroke="#000" stroke-width="1.2" />
<text x="54.70" y="369.50" font-size="9.7" text-anchor="end" font-weight="normal" fill="#000" stroke="#000" stroke-width="0.1" >0</text>
<line x1="58.20" y1="337.28" x2="61.80" y2="337.28" stroke="#000" stroke-width="1.2" />
<text x="54.70" y="340.48" font-size="9.7" text-anchor="end" font-weight="normal" fill="#000" stroke="#000" stroke-width="0.1" >10</text>
<line x1="58.20" y1="308.27" x2="61.80" y2="308.27" stroke="#000" stroke-width="1.2" />
<text x="54.70" y="311.47" font-size="9.7" text-anchor="end" font-weight="normal" fill="#000" stroke="#000" stroke-width="0.1" >20</text>
<line x1="58.20" y1="279.25" x2="61.80" y2="279.25" stroke="#000" stroke-width="1.2" />
<text x="54.70" y="282.45" font-size="9.7" text-anchor="end" font-weight="normal" fill="#000" stroke="#000" stroke-width="0.1" >30</text>
<line x1="61.80" y1="366.30" x2="61.80" y2="370.00" stroke="#000" stroke-width="1.1" />
<text x="61.80" y="381.50" font-size="9.7" text-anchor="middle" font-weight="normal" fill="#000" stroke="#000" stroke-width="0.1" >0</text>
<line x1="90.65" y1="366.30" x2="90.65" y2="370.00" stroke="#000" stroke-width="1.1" />
<text x="90.65" y="381.50" font-size="9.7" text-anchor="middle" font-weight="normal" fill="#000" stroke="#000" stroke-width="0.1" >200</text>
<line x1="119.50" y1="366.30" x2="119.50" y2="370.00" stroke="#000" stroke-width="1.1" />
<text x="119.50" y="381.50" font-size="9.7" text-anchor="middle" font-weight="normal" fill="#000" stroke="#000" stroke-width="0.1" >400</text>
<line x1="148.35" y1="366.30" x2="148.35" y2="370.00" stroke="#000" stroke-width="1.1" />
<text x="148.35" y="381.50" font-size="9.7" text-anchor="middle" font-weight="normal" fill="#000" stroke="#000" stroke-width="0.1" >600</text>
<text x="106.80" y="269.90" font-size="11.1" text-anchor="middle" font-weight="normal" fill="#000" stroke="#000" stroke-width="0.1" >MM1.S</text>
<text transform="translate(36.6,344.79999999999995) rotate(-90)" font-size="10" font-weight="bold" fill="#000" textLength="27.49999999999998" lengthAdjust="spacingAndGlyphs">BCL-XLi</text>
<text transform="translate(36.6,313.7) rotate(-90)" font-size="10" font-weight="bold" fill="#000" textLength="15.8" lengthAdjust="spacingAndGlyphs">(nM)</text>
<text x="83.8" y="396.6" font-size="10.2" font-weight="bold" fill="#000" textLength="23.6" lengthAdjust="spacingAndGlyphs">MCL-1i</text>
<text x="113.3" y="396.6" font-size="10.2" font-weight="bold" fill="#000" textLength="15.8" lengthAdjust="spacingAndGlyphs">(nM)</text>
<line x1="62.00" y1="283.60" x2="140.90" y2="366.30" stroke="#000" stroke-width="1.3" />
<circle cx="62.50" cy="298.80" r="2.4" fill="#2a4b8d"/>
<circle cx="62.50" cy="300.50" r="2.4" fill="#2a4b8d"/>
<circle cx="63.50" cy="337.40" r="2.4" fill="#2a4b8d"/>
<circle cx="63.50" cy="347.10" r="2.4" fill="#2a4b8d"/>
<circle cx="66.50" cy="356.00" r="2.4" fill="#2a4b8d"/>
<circle cx="67.00" cy="357.80" r="2.4" fill="#2a4b8d"/>
<circle cx="76.70" cy="362.70" r="2.4" fill="#2a4b8d"/>
<circle cx="83.00" cy="363.50" r="2.4" fill="#2a4b8d"/>
<path d="M62.00 280.10L65.50 283.60L62.00 287.10L58.50 283.60Z" fill="#b40a38"/>
<path d="M140.90 362.80L144.40 366.30L140.90 369.80L137.40 366.30Z" fill="#b40a38"/>
<line x1="219.60" y1="280.00" x2="219.60" y2="367.10" stroke="#1a1a1a" stroke-width="1.4" />
<line x1="216.00" y1="366.40" x2="308.70" y2="366.40" stroke="#1a1a1a" stroke-width="1.5" />
<line x1="216.00" y1="366.40" x2="219.60" y2="366.40" stroke="#000" stroke-width="1.2" />
<text x="212.50" y="369.60" font-size="9.7" text-anchor="end" font-weight="normal" fill="#000" stroke="#000" stroke-width="0.1" >0</text>
<line x1="216.00" y1="349.16" x2="219.60" y2="349.16" stroke="#000" stroke-width="1.2" />
<text x="212.50" y="352.36" font-size="9.7" text-anchor="end" font-weight="normal" fill="#000" stroke="#000" stroke-width="0.1" >200</text>
<line x1="216.00" y1="331.92" x2="219.60" y2="331.92" stroke="#000" stroke-width="1.2" />
<text x="212.50" y="335.12" font-size="9.7" text-anchor="end" font-weight="normal" fill="#000" stroke="#000" stroke-width="0.1" >400</text>
<line x1="216.00" y1="314.68" x2="219.60" y2="314.68" stroke="#000" stroke-width="1.2" />
<text x="212.50" y="317.88" font-size="9.7" text-anchor="end" font-weight="normal" fill="#000" stroke="#000" stroke-width="0.1" >600</text>
<line x1="216.00" y1="297.44" x2="219.60" y2="297.44" stroke="#000" stroke-width="1.2" />
<text x="212.50" y="300.64" font-size="9.7" text-anchor="end" font-weight="normal" fill="#000" stroke="#000" stroke-width="0.1" >800</text>
<line x1="216.00" y1="280.20" x2="219.60" y2="280.20" stroke="#000" stroke-width="1.2" />
<text x="212.50" y="283.40" font-size="9.7" text-anchor="end" font-weight="normal" fill="#000" stroke="#000" stroke-width="0.1" >1000</text>
<line x1="219.60" y1="366.40" x2="219.60" y2="370.10" stroke="#000" stroke-width="1.1" />
<text x="219.60" y="381.50" font-size="9.7" text-anchor="middle" font-weight="normal" fill="#000" stroke="#000" stroke-width="0.1" >0</text>
<line x1="248.45" y1="366.40" x2="248.45" y2="370.10" stroke="#000" stroke-width="1.1" />
<text x="248.45" y="381.50" font-size="9.7" text-anchor="middle" font-weight="normal" fill="#000" stroke="#000" stroke-width="0.1" >20</text>
<line x1="277.30" y1="366.40" x2="277.30" y2="370.10" stroke="#000" stroke-width="1.1" />
<text x="277.30" y="381.50" font-size="9.7" text-anchor="middle" font-weight="normal" fill="#000" stroke="#000" stroke-width="0.1" >40</text>
<line x1="306.15" y1="366.40" x2="306.15" y2="370.10" stroke="#000" stroke-width="1.1" />
<text x="306.15" y="381.50" font-size="9.7" text-anchor="middle" font-weight="normal" fill="#000" stroke="#000" stroke-width="0.1" >60</text>
<text x="264.70" y="269.90" font-size="11.1" text-anchor="middle" font-weight="normal" fill="#000" stroke="#000" stroke-width="0.1" >OPM-2</text>
<text transform="translate(184.0,346.2) rotate(-90)" font-size="10" font-weight="bold" fill="#000" textLength="27.6" lengthAdjust="spacingAndGlyphs">BCL-XLi</text>
<text transform="translate(184.0,313.59999999999997) rotate(-90)" font-size="10" font-weight="bold" fill="#000" textLength="16.399999999999967" lengthAdjust="spacingAndGlyphs">(nM)</text>
<text x="241.4" y="396.6" font-size="10.2" font-weight="bold" fill="#000" textLength="23.6" lengthAdjust="spacingAndGlyphs">MCL-1i</text>
<text x="270.8" y="396.6" font-size="10.2" font-weight="bold" fill="#000" textLength="15.8" lengthAdjust="spacingAndGlyphs">(nM)</text>
<line x1="219.60" y1="280.20" x2="306.10" y2="366.40" stroke="#000" stroke-width="1.3" />
<circle cx="229.70" cy="340.80" r="2.4" fill="#2a4b8d"/>
<circle cx="229.70" cy="357.50" r="2.4" fill="#2a4b8d"/>
<circle cx="231.10" cy="363.30" r="2.4" fill="#2a4b8d"/>
<circle cx="233.00" cy="364.60" r="2.4" fill="#2a4b8d"/>
<circle cx="234.30" cy="365.60" r="2.4" fill="#2a4b8d"/>
<circle cx="255.30" cy="366.30" r="2.4" fill="#2a4b8d"/>
<circle cx="262.50" cy="366.30" r="2.4" fill="#2a4b8d"/>
<circle cx="291.10" cy="366.30" r="2.4" fill="#2a4b8d"/>
<path d="M219.60 276.70L223.10 280.20L219.60 283.70L216.10 280.20Z" fill="#b40a38"/>
<path d="M306.10 362.90L309.60 366.40L306.10 369.90L302.60 366.40Z" fill="#b40a38"/>
<line x1="320.00" y1="280.00" x2="332.10" y2="280.00" stroke="#b40a38" stroke-width="1.3" />
<path d="M326.90 276.90L330.00 280.00L326.90 283.10L323.80 280.00Z" fill="#b40a38"/>
<line x1="320.00" y1="293.70" x2="332.10" y2="293.70" stroke="#2a4b8d" stroke-width="1.3" />
<circle cx="326.50" cy="293.70" r="2.1" fill="#2a4b8d"/>
<text x="336.00" y="282.90" font-size="8.4" text-anchor="start" font-weight="normal" fill="#000" stroke="#000" stroke-width="0.1" >single inhibitors</text>
<text x="336.00" y="296.40" font-size="8.4" text-anchor="start" font-weight="normal" fill="#000" stroke="#000" stroke-width="0.1" >combinations</text>
<rect x="0" y="0" width="520" height="408" fill="none" stroke="#000" stroke-width="3.2"/>
</svg>
</body></html>
